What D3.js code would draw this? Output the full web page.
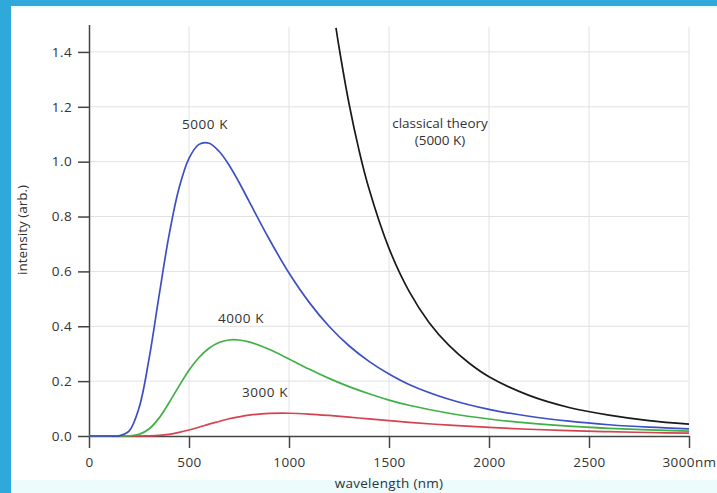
<!DOCTYPE html>
<html>
<head>
<meta charset="utf-8">
<script src="https://cdn.jsdelivr.net/npm/d3@7"></script>
<style>
  html, body { margin: 0; padding: 0; background: #ffffff; }
  svg { display: block; }
  text { font-family: "Open Sans", "DejaVu Sans", sans-serif; fill: #333; }
</style>
</head>
<body>
<svg id="chart" width="717" height="493"></svg>
<script>
// ---- data ----
const wavelengths = [0, 100, 150, 200, 250, 300, 350, 400, 450, 500, 550, 600, 650, 700, 750, 800, 900, 1000, 1100, 1200, 1300, 1400, 1500, 1600, 1800, 2000, 2200, 2400, 2600, 2800, 3000];
const series5000 = [0, 0, 0.0006, 0.0175, 0.102, 0.280, 0.510, 0.731, 0.903, 1.012, 1.063, 1.067, 1.038, 0.988, 0.925, 0.856, 0.719, 0.594, 0.488, 0.400, 0.329, 0.272, 0.226, 0.188, 0.134, 0.097, 0.072, 0.054, 0.041, 0.032, 0.026];
const series4000 = [0, 0, 0, 0.0005, 0.0058, 0.0254, 0.0652, 0.121, 0.182, 0.240, 0.286, 0.320, 0.341, 0.350, 0.350, 0.343, 0.316, 0.281, 0.244, 0.210, 0.180, 0.154, 0.131, 0.112, 0.083, 0.062, 0.047, 0.036, 0.028, 0.022, 0.018];
const series3000 = [0, 0, 0, 0, 0, 0.0005, 0.002, 0.006, 0.013, 0.0218, 0.032, 0.0433, 0.053, 0.0628, 0.070, 0.0759, 0.0822, 0.0830, 0.0800, 0.0749, 0.0688, 0.0622, 0.0559, 0.0499, 0.0395, 0.0311, 0.0246, 0.0196, 0.0157, 0.0127, 0.0104];
const classicalWavelengths = [1235, 1250, 1300, 1350, 1400, 1500, 1600, 1700, 1800, 1900, 2000, 2200, 2400, 2600, 2800, 3000];
const classical5000 = [1.488, 1.418, 1.212, 1.042, 0.901, 0.684, 0.528, 0.414, 0.330, 0.266, 0.216, 0.148, 0.104, 0.076, 0.056, 0.043];
const xTicks = [0, 500, 1000, 1500, 2000, 2500, 3000];
const xTickLabels = ["0", "500", "1000", "1500", "2000", "2500", "3000nm"];
const yTicks = [0, 0.2, 0.4, 0.6, 0.8, 1.0, 1.2, 1.4];
const yTickLabels = ["0.0", "0.2", "0.4", "0.6", "0.8", "1.0", "1.2", "1.4"];
const curveLabels = [
  { text: "5000 K", x: 580, y: 1.119 },
  { text: "4000 K", x: 760, y: 0.412 },
  { text: "3000 K", x: 880, y: 0.142 },
];
const classicalLabel = { lines: ["classical theory", "(5000 K)"], x: 1755, y: 1.123 };

// ---- layout ----
const W = 717, H = 493;
const margin = { left: 89, right: 28, top: 24.5, bottom: 57 };
const FS = 13.5;
const svg = d3.select("#chart");

// frame / background
svg.append("rect").attr("x", 0).attr("y", 0).attr("width", W).attr("height", H).attr("fill", "#ecfbfc");
svg.append("rect").attr("x", 12).attr("y", 8).attr("width", W - 12).attr("height", 472).attr("fill", "#ffffff");
svg.append("rect").attr("x", 0).attr("y", 0).attr("width", 11).attr("height", H).attr("fill", "#2fa9db");
svg.append("rect").attr("x", 0).attr("y", 0).attr("width", W).attr("height", 6).attr("fill", "#2fa9db");

const x = d3.scaleLinear().domain([0, 3000]).range([margin.left, W - margin.right]);
const y = d3.scaleLinear().domain([0, 1.5]).range([H - margin.bottom, margin.top]);

// grid
const grid = svg.append("g").attr("stroke", "#e2e2e2").attr("stroke-width", 1);
grid.selectAll("line.v").data(xTicks.slice(1)).join("line")
  .attr("x1", d => x(d)).attr("x2", d => x(d))
  .attr("y1", y(0)).attr("y2", y(1.5) + 2);
grid.selectAll("line.h").data(yTicks.slice(1)).join("line")
  .attr("x1", x(0)).attr("x2", x(3000))
  .attr("y1", d => y(d)).attr("y2", d => y(d));

// axes
const xAxis = d3.axisBottom(x).tickValues(xTicks).tickSize(12).tickSizeOuter(0)
  .tickFormat((d, i) => xTickLabels[i]);
const gx = svg.append("g").attr("transform", `translate(0,${y(0)})`).call(xAxis);
gx.select(".domain").attr("stroke", "#444").attr("stroke-width", 1.5);
gx.selectAll(".tick line").attr("stroke", "#444").attr("stroke-width", 1.5);
gx.selectAll(".tick text").attr("y", 31).attr("dy", 0)
  .attr("font-size", FS).attr("fill", "#333").attr("letter-spacing", 0.4);

const yAxis = d3.axisLeft(y).tickValues(yTicks).tickSize(11).tickPadding(6).tickSizeOuter(0)
  .tickFormat((d, i) => yTickLabels[i]);
const gy = svg.append("g").attr("transform", `translate(${x(0)},0)`).call(yAxis);
gy.select(".domain").attr("stroke", "#444").attr("stroke-width", 1.5);
gy.selectAll(".tick line").attr("stroke", "#444").attr("stroke-width", 1.5);
gy.selectAll(".tick text").attr("font-size", FS).attr("fill", "#333").attr("letter-spacing", 0.4);
svg.selectAll(".tick text").style("font-family", '"Open Sans", "DejaVu Sans", sans-serif');

// axis titles
svg.append("text").attr("transform", `translate(27,${230}) rotate(-90)`)
  .attr("text-anchor", "middle").attr("font-size", FS).text("intensity (arb.)");
svg.append("text").attr("x", x(1500)).attr("y", 488)
  .attr("text-anchor", "middle").attr("font-size", FS).attr("letter-spacing", 0.3).text("wavelength (nm)");

// curves
const line = d3.line().x(d => x(d[0])).y(d => y(d[1])).curve(d3.curveCatmullRom.alpha(0.5));
const curves = [
  { vals: series3000, color: "#d5434f" },
  { vals: series4000, color: "#3fb045" },
  { vals: series5000, color: "#3e4fc4" },
];
curves.forEach(c => {
  svg.append("path").datum(wavelengths.map((w, i) => [w, c.vals[i]]))
    .attr("d", line).attr("fill", "none").attr("stroke", c.color).attr("stroke-width", 1.7);
});
svg.append("path").datum(classicalWavelengths.map((w, i) => [w, classical5000[i]]))
  .attr("d", line).attr("fill", "none").attr("stroke", "#1a1a1a").attr("stroke-width", 1.7);

// labels
curveLabels.forEach(l => {
  svg.append("text").attr("x", x(l.x)).attr("y", y(l.y))
    .attr("text-anchor", "middle").attr("font-size", FS).attr("letter-spacing", 0.6).text(l.text);
});
classicalLabel.lines.forEach((t, i) => {
  svg.append("text").attr("x", x(classicalLabel.x)).attr("y", y(classicalLabel.y) + i * 17)
    .attr("text-anchor", "middle").attr("font-size", FS).text(t);
});
</script>
</body>
</html>
